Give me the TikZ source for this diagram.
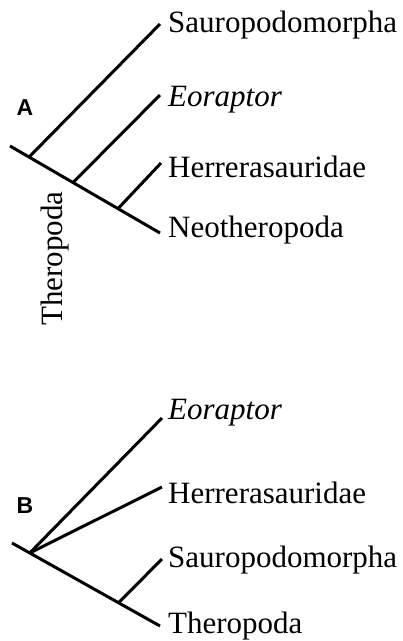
\documentclass[tikz,border=0pt]{standalone}
\usepackage{fontspec}
\usetikzlibrary{calc}
\setmainfont{Liberation Serif}
\newfontfamily\labsans{Liberation Sans}
\begin{document}
\begin{tikzpicture}[x=1pt,y=-1pt,
  branch/.style={line width=3pt},
  taxon/.style={anchor=base west,inner sep=0pt,font=\fontsize{31}{31}\selectfont},
  panel/.style={inner sep=0pt,font=\labsans\bfseries\fontsize{23}{23}\selectfont}]
\useasboundingbox (0,0) rectangle (403,641);
% ---------- Panel A ----------
\coordinate (aroot) at (10,146);
\coordinate (aend) at (160,233);
\coordinate (an1) at ($(aroot)!0.127!(aend)$);
\coordinate (an2) at ($(aroot)!0.42!(aend)$);
\coordinate (an3) at ($(aroot)!0.72!(aend)$);
\coordinate (asau) at (160,24);
\coordinate (aeor) at (160,95);
\coordinate (aher) at (161,163);
\draw[branch] (aroot) -- (aend);
\draw[branch] (an1) -- (asau);
\draw[branch] (an2) -- (aeor);
\draw[branch] (an3) -- (aher);
\node[taxon] (lasau) at (168,32) {Sauropodomorpha};
\node[taxon] (laeor) at (168,106) {\itshape Eoraptor};
\node[taxon] (laher) at (168,177) {Herrerasauridae};
\node[taxon] (laneo) at (168,237) {Neotheropoda};
\node[panel] (labA) at (25,108) {A};
\node[taxon,rotate=90] (lather) at (63,326) {Theropoda};
% ---------- Panel B ----------
\coordinate (broot) at (12,543);
\coordinate (bend) at (160,626);
\coordinate (bn1) at ($(broot)!0.12!(bend)$);
\coordinate (bn2) at ($(broot)!0.72!(bend)$);
\coordinate (beor) at (162,418);
\coordinate (bher) at (162,487);
\coordinate (bsau) at (162,559);
\draw[branch] (broot) -- (bend);
\draw[branch] (bn1) -- (beor);
\draw[branch] (bn1) -- (bher);
\draw[branch] (bn2) -- (bsau);
\node[taxon] (lbeor) at (168,419) {\itshape Eoraptor};
\node[taxon] (lbher) at (168,503) {Herrerasauridae};
\node[taxon] (lbsau) at (168,567) {Sauropodomorpha};
\node[taxon] (lbthe) at (168,633) {Theropoda};
\node[panel] (labB) at (25,506) {B};
\end{tikzpicture}
\end{document}
